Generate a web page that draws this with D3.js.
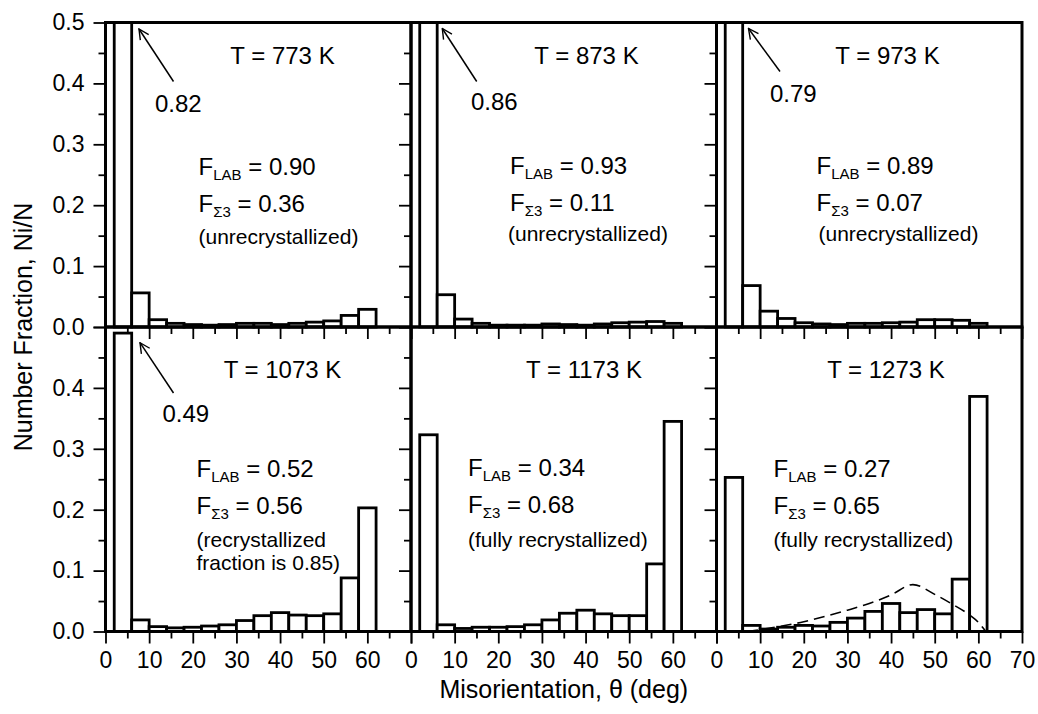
<!DOCTYPE html>
<html><head><meta charset="utf-8">
<script src="https://cdn.jsdelivr.net/npm/d3@7/dist/d3.min.js"></script>
<style>
body{margin:0;background:#fff}
text{font-family:"Liberation Sans",Arial,Helvetica,sans-serif;fill:#000}
</style>
</head><body>
<svg id="chart" width="1038" height="714"></svg>
<script>
// ---------- data ----------
const binCenters = [4, 8, 12, 16, 20, 24, 28, 32, 36, 40, 44, 48, 52, 56, 60];
const binWidth = 4;
const temperatures = ["773", "873", "973", "1073", "1173", "1273"];
const frac773  = [0.82, 0.056, 0.012, 0.006, 0.004, 0.003, 0.004, 0.006, 0.006, 0.004, 0.006, 0.008, 0.010, 0.019, 0.029];
const frac873  = [0.86, 0.053, 0.013, 0.006, 0.003, 0.003, 0.003, 0.005, 0.004, 0.003, 0.005, 0.007, 0.008, 0.009, 0.006];
const frac973  = [0.79, 0.068, 0.026, 0.014, 0.007, 0.005, 0.004, 0.006, 0.006, 0.007, 0.008, 0.012, 0.012, 0.011, 0.006];
const frac1073 = [0.49, 0.019, 0.008, 0.006, 0.007, 0.009, 0.011, 0.018, 0.026, 0.031, 0.027, 0.026, 0.029, 0.088, 0.203];
const frac1173 = [0.323, 0.011, 0.005, 0.007, 0.007, 0.008, 0.011, 0.019, 0.030, 0.035, 0.029, 0.026, 0.026, 0.111, 0.345];
const frac1273 = [0.253, 0.010, 0.004, 0.007, 0.010, 0.009, 0.015, 0.022, 0.033, 0.046, 0.031, 0.036, 0.029, 0.086, 0.386];
const peakLabels = ["0.82", "0.86", "0.79", "0.49", null, null];
const fLAB = ["0.90", "0.93", "0.89", "0.52", "0.34", "0.27"];
const fSigma3 = ["0.36", "0.11", "0.07", "0.56", "0.68", "0.65"];
const notes = [["(unrecrystallized)"], ["(unrecrystallized)"], ["(unrecrystallized)"],
               ["(recrystallized", "fraction is 0.85)"], ["(fully recrystallized)"], ["(fully recrystallized)"]];
// random (Mackenzie) distribution, drawn dashed in the 1273 K panel
const randomAngle = [7, 10, 15, 20, 25, 30, 35, 40, 45, 50, 54, 58, 60, 61.5];
const randomFrac  = [0, 0.003, 0.009, 0.016, 0.025, 0.035, 0.046, 0.060, 0.077, 0.061, 0.045, 0.027, 0.015, 0.002];
const xTickMajor = [0, 10, 20, 30, 40, 50, 60, 70];
const xTickMinor = [5, 15, 25, 35, 45, 55, 65];
const yTickMajor = [0, 0.1, 0.2, 0.3, 0.4, 0.5];
const yTickMinor = [0.05, 0.15, 0.25, 0.35, 0.45];

const panelData = [frac773, frac873, frac973, frac1073, frac1173, frac1273];

// ---------- layout ----------
const L = 105.5, R = 1022, T = 22.5, M = 327, B = 631.5;
const W = (R - L) / 3;
// text layout offsets relative to panel origin (left, top)
const layout = [
  {tx:177, ty:41, px:49.5, py:89, ax1:68, ay1:59, ax2:33.5, ay2:6.5, fx:93, fy:152.5, nx:93, ny:221.5},
  {tx:175.5, ty:41, px:60, py:87.5, ax1:65.7, ay1:59, ax2:31.3, ay2:6, fx:99, fy:151, nx:97, ny:218.5},
  {tx:171, ty:41, px:53.5, py:79, ax1:63.5, ay1:49, ax2:32, ay2:6, fx:100, fy:151, nx:102, ny:218.5},
  {tx:177, ty:51, px:57, py:94.7, ax1:68, ay1:66, ax2:34.5, ay2:15.7, fx:91, fy:149.7, nx:91, ny:219.7},
  {tx:173, ty:51, fx:57, fy:149, nx:57, ny:219.7},
  {tx:169.5, ty:51, fx:57, fy:149.7, nx:57, ny:219.7}
];

const svg = d3.select("#chart");
const defs = svg.append("defs");
defs.append("marker").attr("id","ah").attr("viewBox","0 0 12 12").attr("refX",11).attr("refY",6)
  .attr("markerWidth",12).attr("markerHeight",12).attr("markerUnits","userSpaceOnUse").attr("orient","auto")
  .append("path").attr("d","M1,1 L11,6 L1,11").attr("fill","none").attr("stroke","#000").attr("stroke-width",1.4);

panelData.forEach((vals, i) => {
  const col = i % 3, row = Math.floor(i / 3);
  const x0 = L + col * W, x1 = x0 + W;
  const y0 = row === 0 ? T : M, y1 = row === 0 ? M : B;
  const x = d3.scaleLinear().domain([0, 70]).range([x0, x1]);
  const y = d3.scaleLinear().domain([0, 0.5]).range([y1, y0]).clamp(true);
  const g = svg.append("g");
  const lay = layout[i];

  // bars
  g.selectAll("rect.bar").data(vals).join("rect").attr("class","bar")
    .attr("x", (d, j) => x(binCenters[j] - binWidth / 2))
    .attr("width", x(binWidth) - x(0))
    .attr("y", d => y(d))
    .attr("height", d => y(0) - y(d))
    .attr("fill", "#fff").attr("stroke", "#000").attr("stroke-width", 2.8);

  // x axis (bottom, outward ticks)
  const showX = row === 1;
  const xLabels = col === 2 ? xTickMajor : xTickMajor.slice(0, -1);
  const xa = g.append("g").attr("transform", `translate(0,${y1})`)
    .call(d3.axisBottom(x).tickValues(xTickMajor).tickSize(12).tickPadding(8)
      .tickFormat(d => (showX && xLabels.includes(d)) ? d3.format("d")(d) : ""));
  const xb = g.append("g").attr("transform", `translate(0,${y1})`)
    .call(d3.axisBottom(x).tickValues(xTickMinor).tickSize(7).tickFormat(""));
  // y axis (left, outward ticks)
  const showY = col === 0;
  const yLabels = row === 0 ? yTickMajor : yTickMajor.slice(0, -1);
  const ya = g.append("g").attr("transform", `translate(${x0},0)`)
    .call(d3.axisLeft(y).tickValues(yTickMajor).tickSize(12).tickPadding(9)
      .tickFormat(d => (showY && yLabels.includes(d)) ? d3.format(".1f")(d) : ""));
  const yb = g.append("g").attr("transform", `translate(${x0},0)`)
    .call(d3.axisLeft(y).tickValues(yTickMinor).tickSize(7).tickFormat(""));
  [xa, xb, ya, yb].forEach(a => {
    a.select(".domain").remove();
    a.selectAll("line").attr("stroke", "#000").attr("stroke-width", 1.8);
    a.selectAll("text").style("font-size", "23px").attr("fill", "#000")
      .style("font-family", '"Liberation Sans",Arial,sans-serif');
  });

  // dashed random distribution
  if (i === 5) {
    g.append("path").datum(randomAngle.map((a, k) => [a, randomFrac[k]]))
      .attr("d", d3.line().x(d => x(d[0])).y(d => y(d[1])).curve(d3.curveMonotoneX))
      .attr("fill", "none").attr("stroke", "#000").attr("stroke-width", 1.6)
      .attr("stroke-dasharray", "11,6");
  }

  // frame
  g.append("rect").attr("x", x0).attr("y", y0).attr("width", W).attr("height", y1 - y0)
    .attr("fill", "none").attr("stroke", "#000").attr("stroke-width", 3);

  // texts
  g.append("text").attr("x", x0 + lay.tx).attr("y", y0 + lay.ty).attr("text-anchor", "middle")
    .style("font-size", "24px").text(`T = ${temperatures[i]} K`);
  if (peakLabels[i]) {
    g.append("text").attr("x", x0 + lay.px).attr("y", y0 + lay.py).style("font-size", "24px").text(peakLabels[i]);
    g.append("line").attr("x1", x0 + lay.ax1).attr("y1", y0 + lay.ay1)
      .attr("x2", x0 + lay.ax2).attr("y2", y0 + lay.ay2)
      .attr("stroke", "#000").attr("stroke-width", 1.5).attr("marker-end", "url(#ah)");
  }
  const t1 = g.append("text").attr("x", x0 + lay.fx).attr("y", y0 + lay.fy).style("font-size", "24px");
  t1.append("tspan").text("F");
  t1.append("tspan").attr("dy", 5).style("font-size", "15px").text("LAB");
  t1.append("tspan").attr("dy", -5).text(` = ${fLAB[i]}`);
  const t2 = g.append("text").attr("x", x0 + lay.fx).attr("y", y0 + lay.fy + 37).style("font-size", "24px");
  t2.append("tspan").text("F");
  t2.append("tspan").attr("dy", 5).style("font-size", "15px").text("Σ3");
  t2.append("tspan").attr("dy", -5).text(` = ${fSigma3[i]}`);
  notes[i].forEach((n, k) => {
    g.append("text").attr("x", x0 + lay.nx).attr("y", y0 + lay.ny + k * 23).style("font-size", "21px").text(n);
  });
});

// axis titles
svg.append("text").attr("transform", `translate(32,${(T + B) / 2}) rotate(-90)`)
  .attr("text-anchor", "middle").style("font-size", "25px").text("Number Fraction, Ni/N");
svg.append("text").attr("x", (L + R) / 2).attr("y", 698).attr("text-anchor", "middle")
  .style("font-size", "25px").text("Misorientation, θ (deg)");
</script>
</body></html>
